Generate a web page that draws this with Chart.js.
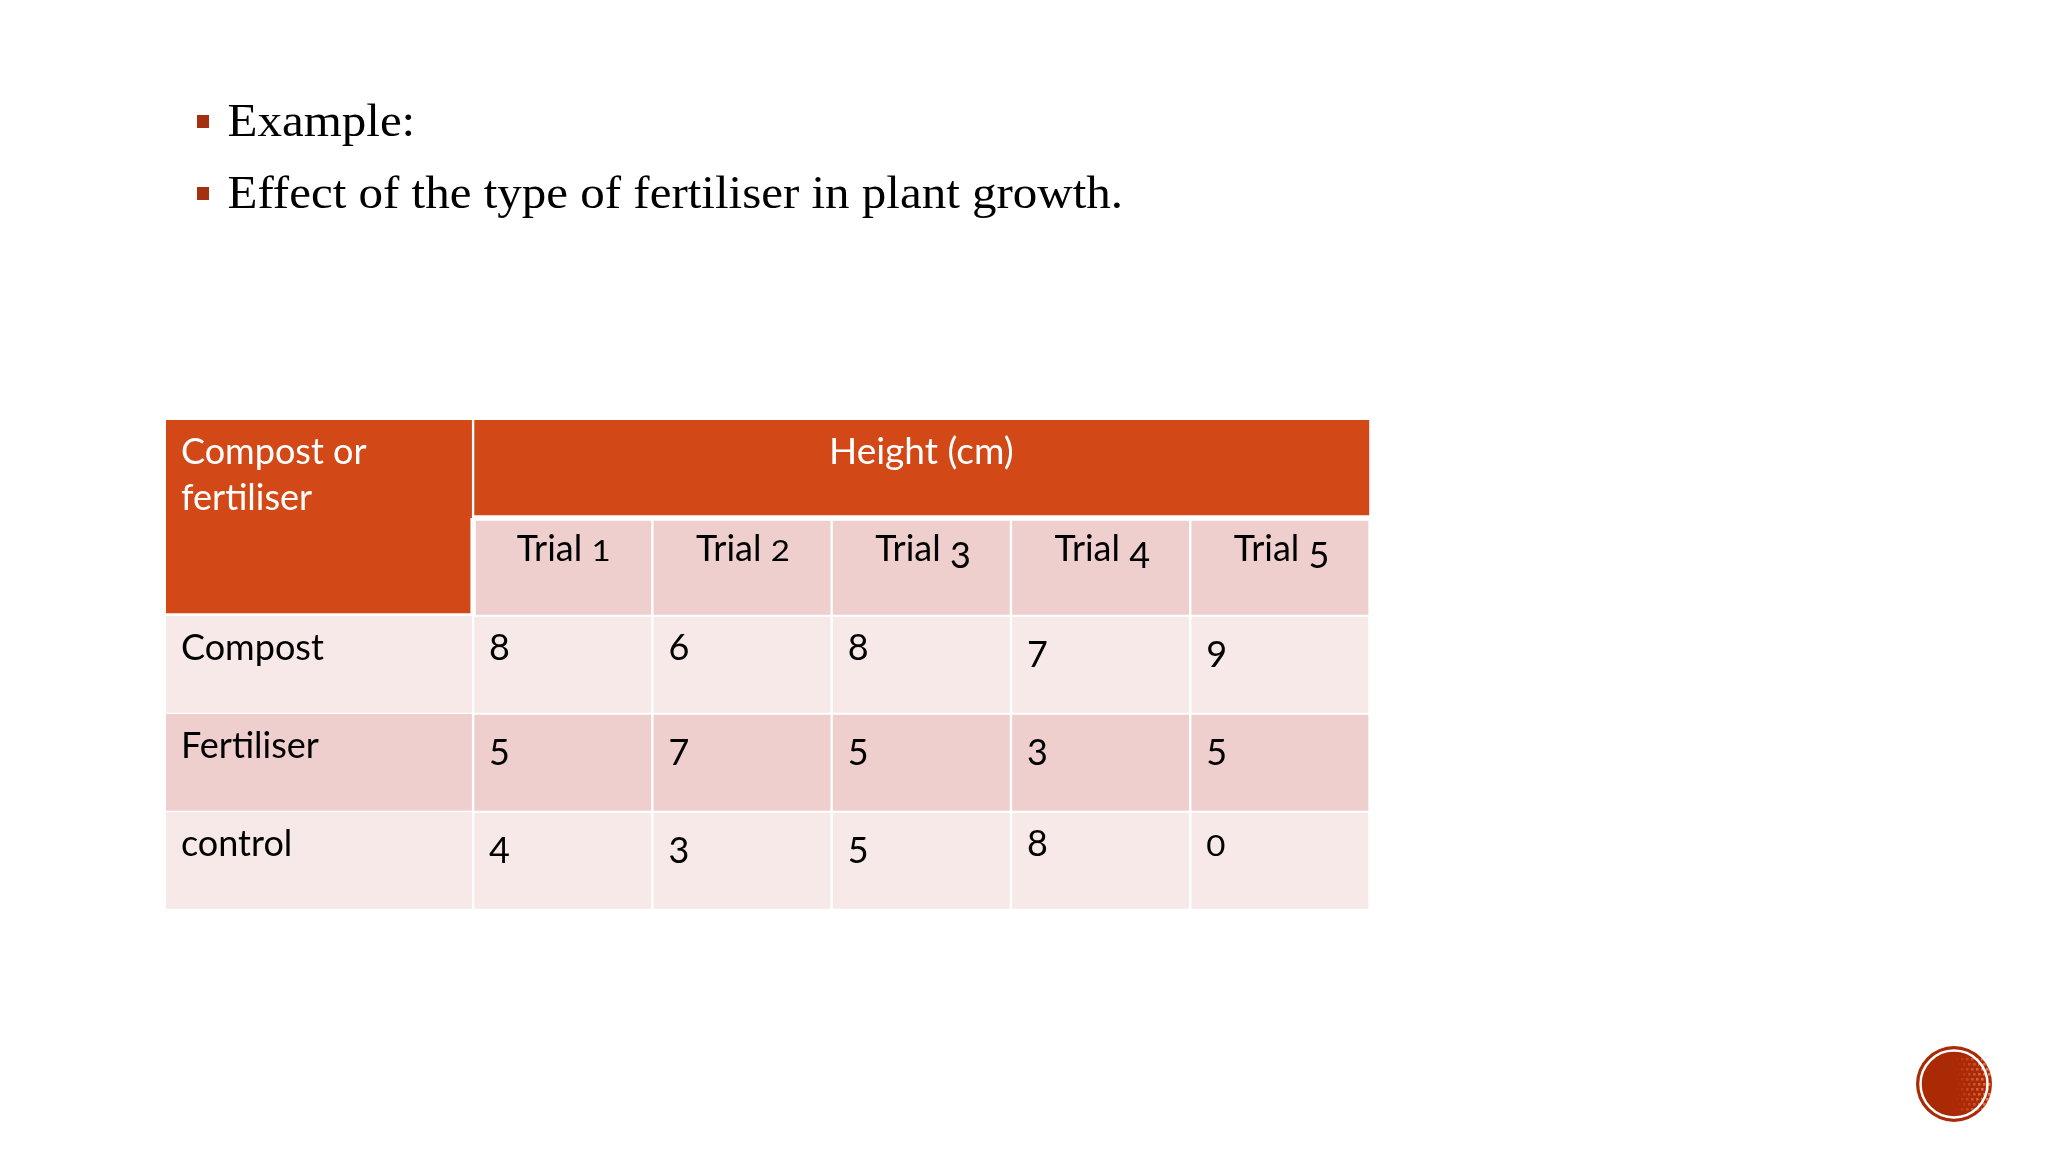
<!DOCTYPE html>
<html>
<head>
<meta charset="utf-8">
<title>Fertiliser table</title>
<script src="https://cdn.jsdelivr.net/npm/chart.js@4"></script>
<style>
  html, body { margin: 0; padding: 0; background: #fff; }
  canvas { display: block; }
</style>
</head>
<body>
<canvas id="tableChart" width="2048" height="1152"></canvas>
<script>
// Data
const bulletLines = ['Example:', 'Effect of the type of fertiliser in plant growth.'];
const cornerLabel = ['Compost or', 'fertiliser'];
const spanLabel = 'Height (cm)';
const trialLabels = ['Trial 1', 'Trial 2', 'Trial 3', 'Trial 4', 'Trial 5'];
const rowLabels = ['Compost', 'Fertiliser', 'control'];
const compost = [8, 6, 8, 7, 9];
const fertiliser = [5, 7, 5, 3, 5];
const control = [4, 3, 5, 8, 0];
const rowValues = [compost, fertiliser, control];

// Colours and layout
const ORANGE = '#D34817';
const PINK_DARK = '#EECFCE';
const PINK_LIGHT = '#F6E9E7';
const BULLET = '#A5300F';
const LABEL_COL = -1.713; // first column is wider than one trial column
const SANS = 'Lato';
const SERIF = '"Liberation Serif"';

// Rows of the table, top to bottom
const rowKeys = ['span', 'trials', ...rowLabels];
const rowFill = [ORANGE, PINK_DARK, PINK_LIGHT, PINK_DARK, PINK_LIGHT];

// Corbel style figures: some digits hang below the line, some are x-height
const digitDrop = { 3: 7, 4: 7, 5: 7, 7: 7, 9: 7 };
const digitSmall = { 0: true, 1: true, 2: true };

function drawDigit(ctx, digit, x, y, size) {
  ctx.save();
  ctx.translate(x, y + (digitDrop[digit] || 0));
  if (digitSmall[digit]) {
    ctx.font = `${Math.round(size * 0.78)}px ${SANS}`;
    ctx.scale(1.18, 1);
  } else {
    ctx.font = `${size}px ${SANS}`;
  }
  ctx.fillText(String(digit), 0, 0);
  ctx.restore();
}

function drawBadge(ctx, cx, cy) {
  ctx.save();
  ctx.beginPath();
  ctx.arc(cx, cy, 38, 0, Math.PI * 2);
  ctx.fillStyle = '#A92A05';
  ctx.fill();
  ctx.clip();
  // lighter speckle fading in towards the right
  for (let dx = 2; dx <= 32; dx += 5) {
    for (let dy = -26; dy <= 26; dy += 5) {
      ctx.fillStyle = `rgba(245,130,90,${(dx / 32 * 0.9).toFixed(2)})`;
      ctx.fillRect(cx + dx + (dy % 2 ? 2 : 0), cy + dy, 2.6, 2.6);
    }
  }
  ctx.beginPath();
  ctx.arc(cx, cy, 33.5, 0, Math.PI * 2);
  ctx.strokeStyle = '#fff';
  ctx.lineWidth = 2.5;
  ctx.stroke();
  ctx.restore();
}

const tableText = {
  id: 'tableText',
  afterDatasetsDraw(chart) {
    const { ctx, scales: { x, y } } = chart;
    const rowTop = (i) => y.getPixelForValue(i) - y.height / 10;
    const font = `36px ${SANS}`;
    ctx.save();
    ctx.textBaseline = 'alphabetic';
    ctx.textAlign = 'left';

    // corner header
    ctx.fillStyle = '#fff';
    ctx.font = font;
    const leftPad = x.getPixelForValue(LABEL_COL) + 15;
    cornerLabel.forEach((line, i) => ctx.fillText(line, leftPad, rowTop(0) + 44 + i * 46));

    // spanning header
    ctx.textAlign = 'center';
    ctx.font = `37px ${SANS}`;
    ctx.fillText(spanLabel, x.getPixelForValue(2.5), rowTop(0) + 44);

    // trial headers, word and figure are placed apart so the figure can hang
    ctx.fillStyle = '#000';
    ctx.textAlign = 'left';
    trialLabels.forEach((label, i) => {
      const [word, num] = label.split(' ');
      ctx.font = font;
      const wordW = ctx.measureText(word + ' ').width;
      const left = x.getPixelForValue(i + 0.5) - 46;
      ctx.fillText(word, left, rowTop(1) + 43);
      drawDigit(ctx, Number(num), left + wordW, rowTop(1) + 43, 36);
    });

    // body rows
    rowLabels.forEach((label, r) => {
      ctx.font = font;
      ctx.fillText(label, leftPad, rowTop(r + 2) + 44);
      rowValues[r].forEach((v, c) => {
        drawDigit(ctx, v, x.getPixelForValue(c) + 16, rowTop(r + 2) + 44, 36);
      });
    });

    // bullet lines above the table
    bulletLines.forEach((line, i) => {
      const base = 136 + i * 72;
      ctx.fillStyle = BULLET;
      ctx.fillRect(197, base - 21, 12, 13);
      ctx.fillStyle = '#000';
      ctx.font = `46px ${SERIF}`;
      ctx.save();
      ctx.translate(227.5, base);
      ctx.scale(1.065, 1);
      ctx.fillText(line, 0, 0);
      ctx.restore();
    });

    drawBadge(ctx, 1954, 1084);
    ctx.restore();
  }
};

new Chart(document.getElementById('tableChart'), {
  type: 'bar',
  data: {
    labels: rowKeys,
    datasets: [
      // first column, the two header rows read as a single cell
      {
        data: rowKeys.map(() => [LABEL_COL, 0]),
        backgroundColor: rowFill.map((c, i) => (i < 2 ? ORANGE : c)),
        borderColor: '#fff',
        borderWidth: (c) => (c.dataIndex === 0
          ? { right: 1.5 }
          : c.dataIndex === 1
            ? { right: 3, bottom: 3 }
            : { right: 1.5, bottom: 1.5 }),
        borderSkipped: false
      },
      // spanning header
      {
        data: rowKeys.map((k, i) => (i === 0 ? [0, trialLabels.length] : null)),
        backgroundColor: ORANGE,
        borderColor: '#fff',
        borderWidth: { left: 1.5, bottom: 3 },
        borderSkipped: false
      },
      // one dataset per trial column
      ...trialLabels.map((t, c) => ({
        label: t,
        data: rowKeys.map((k, i) => (i === 0 ? null : [c, c + 1])),
        backgroundColor: rowFill,
        borderColor: '#fff',
        borderWidth: (ctx) => (ctx.dataIndex === 1
          ? { left: c === 0 ? 3 : 1.5, right: 1.5, top: 3, bottom: 1.5 }
          : { left: 1.5, right: 1.5, bottom: 1.5, top: 1 }),
        borderSkipped: false
      }))
    ]
  },
  options: {
    indexAxis: 'y',
    responsive: false,
    animation: false,
    // 490px of plot height keeps the five row edges on whole pixels
    layout: { padding: { left: 166, right: 678.5, top: 420, bottom: 242 } },
    datasets: { bar: { grouped: false, barPercentage: 1, categoryPercentage: 1 } },
    plugins: { legend: { display: false }, tooltip: { enabled: false } },
    scales: {
      x: { type: 'linear', min: LABEL_COL, max: 5, display: false },
      y: { display: false }
    }
  },
  plugins: [tableText]
});
</script>
</body>
</html>
